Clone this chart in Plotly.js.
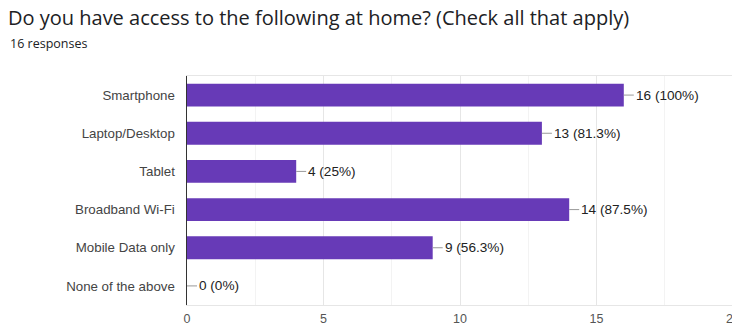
<!DOCTYPE html>
<html><head><meta charset="utf-8">
<script src="https://cdn.plot.ly/plotly-3.0.1.min.js"></script>
<style>html,body{margin:0;padding:0;overflow:hidden;background:#fff;width:732px;height:328px}</style>
</head><body><div id="chart"></div>
<script>
const categories = ["Smartphone", "Laptop/Desktop", "Tablet", "Broadband Wi-Fi", "Mobile Data only", "None of the above"];
const counts = [16, 13, 4, 14, 9, 0];
const percents = ["100%", "81.3%", "25%", "87.5%", "56.3%", "0%"];
const xTicks = [0, 5, 10, 15, 20];

const W = 753, H = 328, L = 187, R = 20, T = 76, B = 23;
const plotW = W - L - R, plotH = H - T - B;
const sans = 'Liberation Sans, Arial, sans-serif';

const annotations = categories.map((c, i) => ({
  x: counts[i], y: c, xref: 'x', yref: 'y',
  text: counts[i] + ' (' + percents[i] + ')',
  showarrow: true, arrowhead: 0, arrowwidth: 1, arrowcolor: '#999',
  ax: 10, ay: 0, standoff: 0, xanchor: 'left',
  font: {family: sans, size: 13.6, color: '#222'}
}));
annotations.push({
  xref: 'paper', yref: 'paper', x: (8 - L) / plotW, y: (H - B - 44) / plotH,
  xanchor: 'left', yanchor: 'middle', showarrow: false,
  text: '16 responses',
  font: {family: 'Open Sans, sans-serif', size: 12.5, color: '#202124'}
});

Plotly.newPlot('chart', [{
  type: 'bar', orientation: 'h', x: counts, y: categories,
  marker: {color: '#673ab7'}, width: 0.6, hoverinfo: 'none'
}], {
  width: W, height: H,
  margin: {l: L, r: R, t: T, b: B, pad: 0},
  paper_bgcolor: '#fff', plot_bgcolor: '#fff',
  title: {text: 'Do you have access to the following at home? (Check all that apply)',
    xref: 'container', yref: 'container', x: 8 / W, y: 1 - 18 / H, xanchor: 'left', yanchor: 'middle',
    font: {family: 'Open Sans, sans-serif', size: 20, color: '#202124'}},
  xaxis: {range: [0, 20], tickvals: xTicks, ticktext: xTicks.map(String),
    showgrid: true, gridcolor: '#e6e6e6', gridwidth: 1,
    minor: {dtick: 2.5, showgrid: true, gridcolor: '#f3f3f3'},
    zeroline: false, showline: true, linecolor: '#e6e6e6', mirror: true,
    ticks: '', ticklabelstandoff: 2,
    tickfont: {family: sans, size: 12.5, color: '#555'}},
  yaxis: {autorange: 'reversed', showgrid: false, zeroline: false,
    showline: true, linecolor: '#333', linewidth: 1.5, ticks: '', ticklabelstandoff: 8,
    tickfont: {family: sans, size: 13.3, color: '#444'}},
  annotations: annotations,
  showlegend: false
}, {staticPlot: true});
</script></body></html>
